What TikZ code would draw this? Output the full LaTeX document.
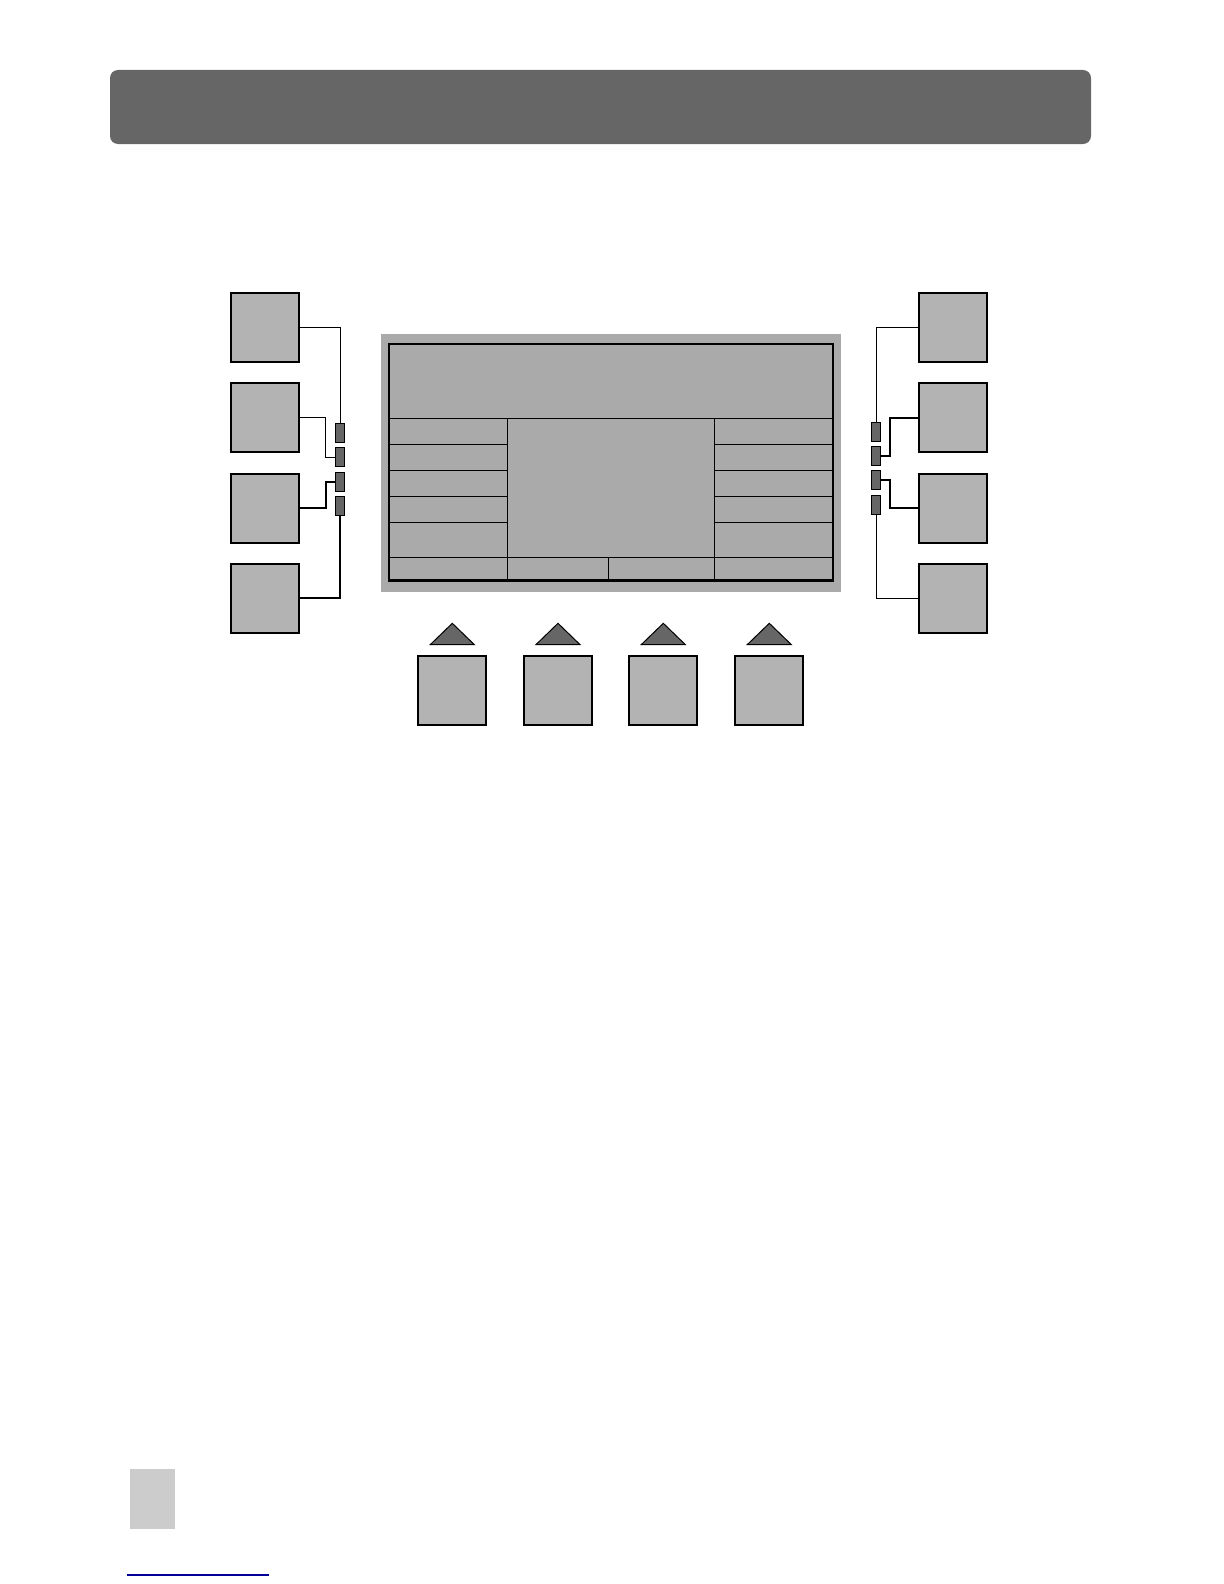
\documentclass[tikz,border=0pt]{standalone}
\usetikzlibrary{positioning}
\definecolor{panel}{HTML}{666666}
\definecolor{key}{HTML}{B3B3B3}
\definecolor{lcd}{HTML}{AAAAAA}
\definecolor{pagetab}{HTML}{CCCCCC}
\definecolor{rule}{HTML}{000099}

\begin{document}
\begin{tikzpicture}[
  x=0.5pt, y=-0.5pt,
  softkey/.style={draw, line width=1pt, fill=key, minimum width=34pt,
                  minimum height=34.5pt, inner sep=0pt},
  led/.style={draw, line width=0.5pt, fill=panel, minimum width=4.75pt,
              minimum height=9.5pt, inner sep=0pt},
  wire/.style={line width=0.5pt},
  wirethick/.style={line width=1pt},
  cell/.style={draw, line width=0.6pt},
  arrowkey/.style={draw, line width=0.5pt, fill=panel}
]
  \useasboundingbox (0,0) rectangle (1224,1584);

  % Title bar
  \fill[panel, rounded corners=4pt] (110,70) rectangle (1091,144);

  % Display
  \fill[lcd] (381,334) rectangle (841,591.7);
  \draw[line width=1.3pt] (389,344) rectangle (833,580.7);
  \draw[cell] (389,418.3) -- (833,418.3);
  \draw[cell] (389,557.7) -- (833,557.7);
  \draw[cell] (507.3,418.3) -- (507.3,580.7);
  \draw[cell] (714.3,418.3) -- (714.3,580.7);
  \draw[cell] (608.3,557.7) -- (608.3,580.7);
  \draw[cell] (389,444.3) -- (507.3,444.3) (714.3,444.3) -- (833,444.3);
  \draw[cell] (389,470.3) -- (507.3,470.3) (714.3,470.3) -- (833,470.3);
  \draw[cell] (389,496.3) -- (507.3,496.3) (714.3,496.3) -- (833,496.3);
  \draw[cell] (389,522.3) -- (507.3,522.3) (714.3,522.3) -- (833,522.3);

  % Left keys
  \node[softkey] (l1) at (264.7,327) {};
  \node[softkey] (l2) at (264.7,417.5) {};
  \node[softkey] (l3) at (264.7,508) {};
  \node[softkey] (l4) at (264.7,598.4) {};
  \node[led] (lt1) at (340,432.7) {};
  \node[led] (lt2) at (340,457) {};
  \node[led] (lt3) at (340,481.7) {};
  \node[led] (lt4) at (340,506.3) {};
  \draw[wire] (l1.east) -| (lt1.north);
  \draw[wire] (l2.east) -- ++(26,0) |- (lt2.west);
  \draw[wirethick] (l3.east) -- ++(26,0) |- (lt3.west);
  \draw[wirethick] (l4.east) -| (lt4.south);

  % Right keys
  \node[softkey] (r1) at (953,327) {};
  \node[softkey] (r2) at (953,417.5) {};
  \node[softkey] (r3) at (953,508) {};
  \node[softkey] (r4) at (953,598.4) {};
  \node[led] (rt1) at (876,431.5) {};
  \node[led] (rt2) at (876,455.5) {};
  \node[led] (rt3) at (876,480.2) {};
  \node[led] (rt4) at (876,505) {};
  \draw[wire] (r1.west) -| (rt1.north);
  \draw[wirethick] (r2.west) -- ++(-28,0) |- (rt2.east);
  \draw[wirethick] (r3.west) -- ++(-28,0) |- (rt3.east);
  \draw[wire] (r4.west) -| (rt4.south);

  % Bottom keys
  \node[softkey] (b1) at (452.3,690.8) {};
  \node[softkey] (b2) at (558,690.8) {};
  \node[softkey] (b3) at (663.3,690.8) {};
  \node[softkey] (b4) at (769.3,690.8) {};
  \draw[arrowkey] (b1.north) ++(-22,-10.7) -- ++(22,-21.3) -- ++(22,21.3) -- cycle;
  \draw[arrowkey] (b2.north) ++(-22,-10.7) -- ++(22,-21.3) -- ++(22,21.3) -- cycle;
  \draw[arrowkey] (b3.north) ++(-22,-10.7) -- ++(22,-21.3) -- ++(22,21.3) -- cycle;
  \draw[arrowkey] (b4.north) ++(-22,-10.7) -- ++(22,-21.3) -- ++(22,21.3) -- cycle;

  % Page tab and footer rule
  \fill[pagetab] (130,1469) rectangle (175,1528.7);
  \draw[rule, line width=0.6pt] (126.7,1575) -- (269,1575);
\end{tikzpicture}
\end{document}
